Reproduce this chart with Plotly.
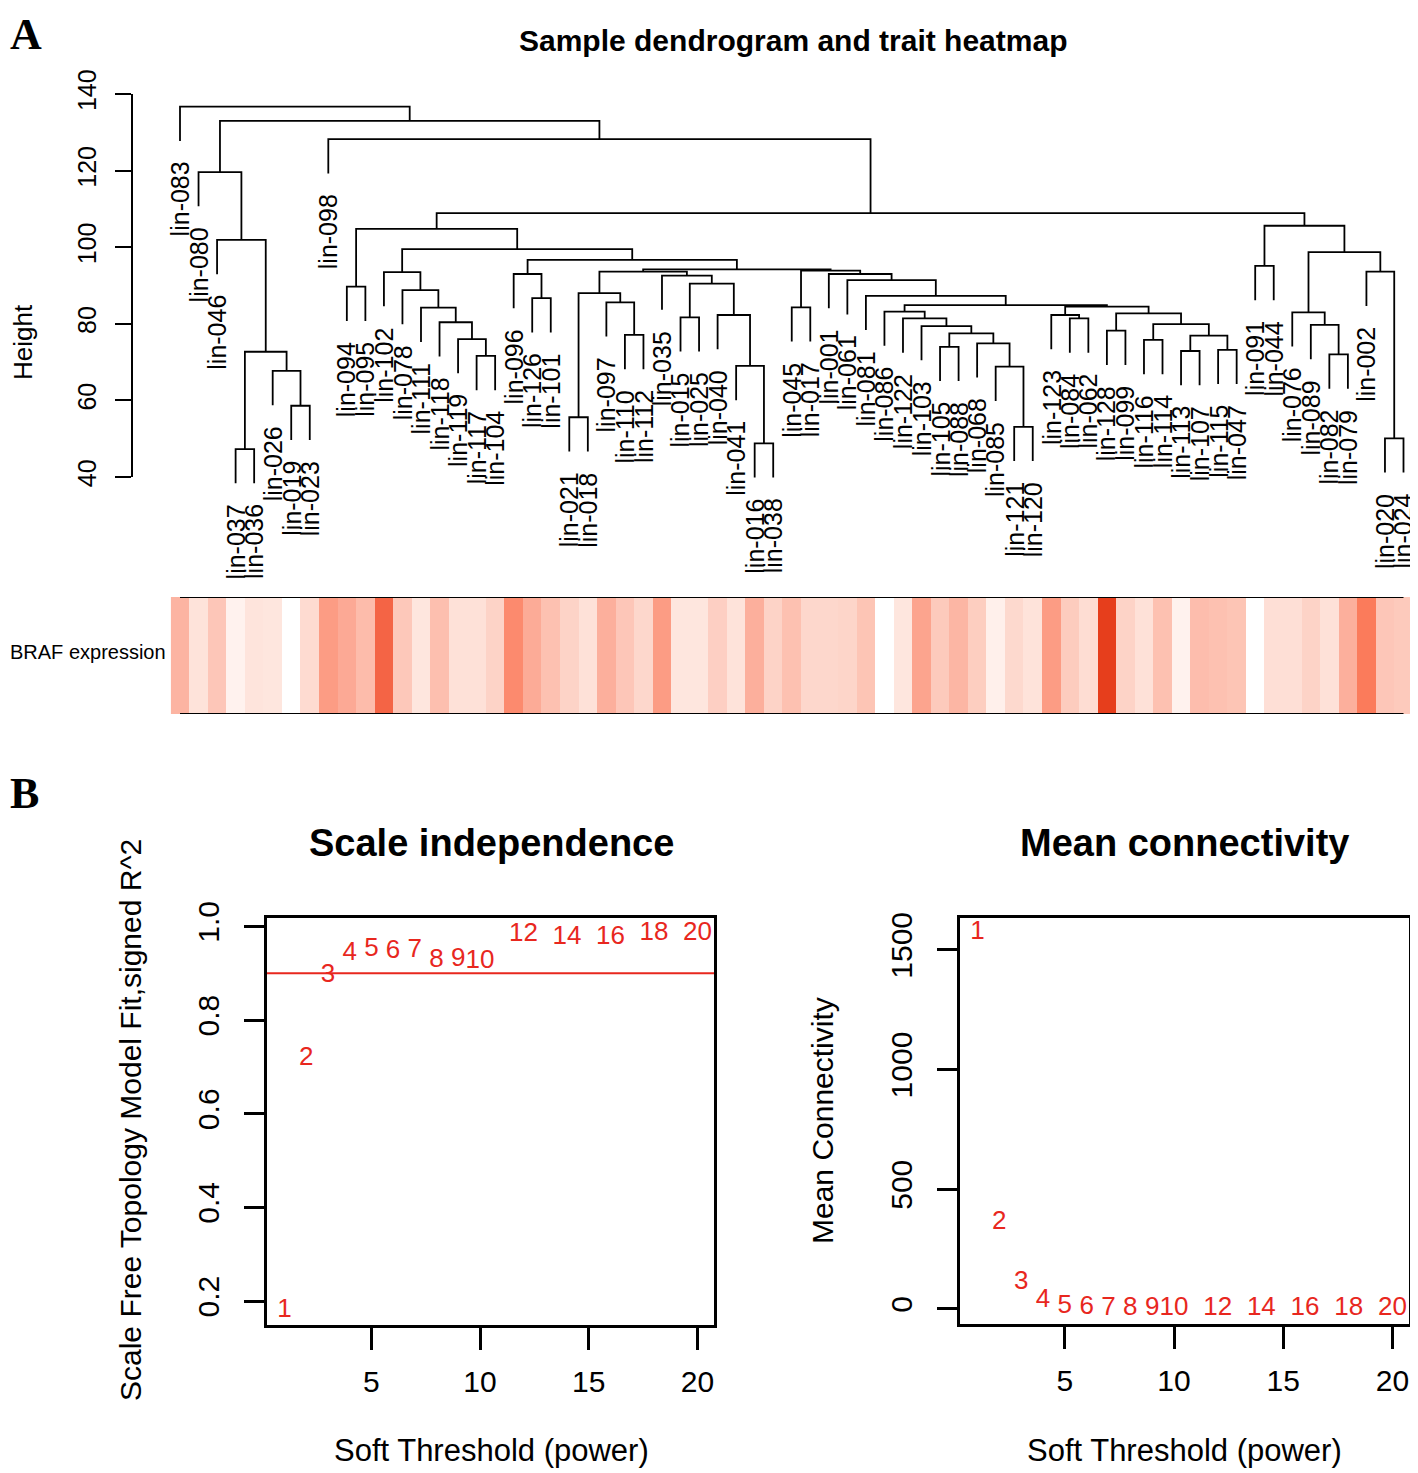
import plotly.graph_objects as go

# page is 1418x1473; the html body adds an 8px margin at left/top
OFF = 8
W, H = 1418 - OFF, 1473 - OFF
def fx(px): return min(1.0, max(0.0, (px - OFF) / W))
def fy(py): return min(1.0, max(0.0, 1 - (py - OFF) / H))

# ---------------- data ----------------
leaf_labels = ["lin-083", "lin-080", "lin-046", "lin-037", "lin-036", "lin-026", "lin-019", "lin-023",
               "lin-098", "lin-094", "lin-095", "lin-102", "lin-078", "lin-111", "lin-118", "lin-119",
               "lin-117", "lin-104", "lin-096", "lin-126", "lin-101", "lin-021", "lin-018", "lin-097",
               "lin-110", "lin-112", "lin-035", "lin-015", "lin-025", "lin-040", "lin-041", "lin-016",
               "lin-038", "lin-045", "lin-017", "lin-001", "lin-061", "lin-081", "lin-086", "lin-122",
               "lin-103", "lin-105", "lin-088", "lin-068", "lin-085", "lin-121", "lin-120", "lin-123",
               "lin-084", "lin-062", "lin-128", "lin-099", "lin-116", "lin-114", "lin-113", "lin-107",
               "lin-115", "lin-047", "lin-091", "lin-044", "lin-076", "lin-089", "lin-082", "lin-079",
               "lin-002", "lin-020", "lin-024"]

# hclust-like merges: (child_a, child_b, height); int children refer to earlier merges
merges = [
    ("lin-037", "lin-036", 47.3), ("lin-019", "lin-023", 58.6), ("lin-026", 1, 67.7), (0, 2, 72.7),
    ("lin-046", 3, 101.9), ("lin-080", 4, 119.6), ("lin-094", "lin-095", 89.7),
    ("lin-117", "lin-104", 71.6), ("lin-119", 7, 76.0), ("lin-118", 8, 80.4), ("lin-111", 9, 84.2),
    ("lin-078", 10, 88.8), ("lin-102", 11, 93.5), ("lin-126", "lin-101", 86.7), ("lin-096", 13, 93.0),
    ("lin-021", "lin-018", 55.6), ("lin-110", "lin-112", 77.1), ("lin-097", 16, 85.6), (15, 17, 88.0),
    ("lin-015", "lin-025", 81.7), ("lin-016", "lin-038", 48.8), ("lin-041", 20, 69.0),
    ("lin-040", 21, 82.3), (19, 22, 90.5), ("lin-035", 23, 92.6), (18, 24, 93.6),
    ("lin-045", "lin-017", 84.3), ("lin-121", "lin-120", 53.1), ("lin-085", 27, 68.8),
    ("lin-068", 28, 74.9), ("lin-105", "lin-088", 74.0), (30, 29, 77.5), ("lin-103", 31, 79.4),
    ("lin-122", 32, 81.4), ("lin-086", 33, 83.2), ("lin-084", "lin-062", 81.4), ("lin-123", 35, 82.3),
    ("lin-128", "lin-099", 78.2), ("lin-116", "lin-114", 75.8), ("lin-113", "lin-107", 72.9),
    ("lin-115", "lin-047", 73.2), (39, 40, 76.9), (38, 41, 79.9), (37, 42, 82.7), (36, 43, 84.5),
    (34, 44, 84.9), ("lin-081", 45, 87.3), ("lin-061", 46, 91.4), ("lin-001", 47, 93.0),
    (26, 48, 93.9), (25, 49, 94.2), (14, 50, 96.7), (12, 51, 99.5), (6, 52, 104.8),
    ("lin-091", "lin-044", 95.1), ("lin-082", "lin-079", 72.0), ("lin-089", 55, 79.7),
    ("lin-076", 56, 83.0), ("lin-020", "lin-024", 50.1), ("lin-002", 58, 93.6), (57, 59, 98.7),
    (54, 60, 105.6), (53, 61, 108.9), ("lin-098", 62, 128.2), (5, 63, 133.0), ("lin-083", 64, 136.7),
]

braf_expr = [0.37, 0.12, 0.27, 0.05, 0.11, 0.10, 0.00, 0.16, 0.50, 0.43, 0.33, 0.75, 0.26, 0.10,
             0.31, 0.13, 0.13, 0.20, 0.58, 0.42, 0.30, 0.20, 0.13, 0.40, 0.27, 0.18, 0.50, 0.10,
             0.10, 0.22, 0.12, 0.40, 0.20, 0.30, 0.18, 0.18, 0.19, 0.28, 0.00, 0.10, 0.46, 0.25,
             0.36, 0.23, 0.06, 0.17, 0.12, 0.50, 0.24, 0.15, 1.00, 0.20, 0.13, 0.30, 0.05, 0.32,
             0.30, 0.28, 0.00, 0.14, 0.14, 0.20, 0.13, 0.40, 0.65, 0.27, 0.25]

height_ticks = [40, 60, 80, 100, 120, 140]

powers = [1, 2, 3, 4, 5, 6, 7, 8, 9, 10, 12, 14, 16, 18, 20]
sft_r2 = [0.181, 0.719, 0.896, 0.943, 0.950, 0.946, 0.948, 0.928, 0.930, 0.925,
          0.982, 0.976, 0.977, 0.985, 0.984]
mean_k = [1571, 361, 111, 35, 11, 4, 2, 1, 0.6, 0.4, 0.2, 0.1, 0.05, 0.03, 0.02]
r2_ticks = [0.2, 0.4, 0.6, 0.8, 1.0]
k_ticks = [0, 500, 1000, 1500]
power_ticks = [5, 10, 15, 20]
r2_cut = 0.90

FONT = "Liberation Sans, Arial, Helvetica, sans-serif"
SERIF = "Liberation Serif, DejaVu Serif, serif"
RED = "#E8271E"

# ---------------- dendrogram geometry from the merge table ----------------
n = len(leaf_labels)
pos = {lab: i + 1 for i, lab in enumerate(leaf_labels)}
hts = [m[2] for m in merges]
hang = 0.1 * (max(hts) - min(hts))
node_x = []
leaf_y = {}
xs, ys = [], []
for a, b, h in merges:
    pts = []
    for c in (a, b):
        if isinstance(c, str):
            leaf_y[c] = h - hang
            pts.append((pos[c], h - hang))
        else:
            pts.append((node_x[c], merges[c][2]))
    (xa, ya), (xb, yb) = pts
    xs += [xa, xa, xb, xb, None]
    ys += [ya, h, h, yb, None]
    node_x.append((xa + xb) / 2)

# pixel layout of the dendrogram panel
k_px = (477 - 94) / 100.0          # px per height unit
y_top_px, y_bot_px = 60, 590
dend_range = [140 - (y_bot_px - 94) / k_px, 140 + (94 - y_top_px) / k_px]
first_px, last_px = 180.0, 1403.5      # pixel of first / last leaf
ppl = (last_px - first_px) / (n - 1)   # px per leaf
dom_l_px, dom_r_px = first_px - ppl / 2, 1417.0
x_dom = [fx(dom_l_px), fx(dom_r_px)]
x_rng = [1 - (first_px - dom_l_px) / ppl, 1 + (dom_r_px - first_px) / ppl]

fig = go.Figure()
fig.add_trace(go.Scatter(x=xs, y=ys, mode="lines", line=dict(color="black", width=1.8),
                         xaxis="x", yaxis="y", hoverinfo="skip"))
fig.add_trace(go.Scatter(x=[None], y=[None], xaxis="x", yaxis="y5", hoverinfo="skip"))

colorscale = [[0.0, "#FFFFFF"], [0.05, "#FFF2EE"], [0.10, "#FEE6DE"], [0.13, "#FEE1D8"],
              [0.20, "#FDD3C7"], [0.30, "#FDC1B1"], [0.40, "#FCAF9C"], [0.50, "#FC9C84"],
              [0.58, "#FC8A6E"], [0.65, "#FB7B5B"], [0.75, "#F46445"], [1.0, "#E63E1C"]]
fig.add_trace(go.Heatmap(z=[braf_expr], x=list(range(1, n + 1)), y=[0], colorscale=colorscale,
                         zmin=0, zmax=1, showscale=False, xaxis="x2", yaxis="y2", hoverinfo="skip"))

fig.add_trace(go.Scatter(x=powers, y=sft_r2, mode="text", text=[str(p) for p in powers],
                         textfont=dict(color=RED, size=26, family=FONT), textposition="middle center",
                         cliponaxis=False, xaxis="x3", yaxis="y3", hoverinfo="skip"))
fig.add_trace(go.Scatter(x=powers, y=mean_k, mode="text", text=[str(p) for p in powers],
                         textfont=dict(color=RED, size=26, family=FONT), textposition="middle center",
                         cliponaxis=False, xaxis="x4", yaxis="y4", hoverinfo="skip"))

annotations = []
for lab in leaf_labels:
    annotations.append(dict(x=pos[lab], y=leaf_y[lab] - 19 / k_px, xref="x", yref="y", text=lab,
                            showarrow=False, textangle=-90, xanchor="center", yanchor="top",
                            font=dict(size=25, family=FONT, color="black")))

def ann(text, px, py, size, angle=0, xanchor="center", yanchor="middle", bold=False, family=FONT):
    annotations.append(dict(x=fx(px), y=fy(py), xref="paper", yref="paper",
                            text=f"<b>{text}</b>" if bold else text, showarrow=False,
                            textangle=angle, xanchor=xanchor, yanchor=yanchor,
                            font=dict(size=size, family=family, color="black")))

ann("Sample dendrogram and trait heatmap", 793, 41, 30, bold=True)
ann("Height", 23, 342, 26, angle=-90)
ann("BRAF expression", 168, 652, 20, xanchor="right")
ann("A", 8, 8, 44, xanchor="left", yanchor="top", bold=True, family=SERIF)
ann("B", 8, 793, 44, xanchor="left", bold=True, family=SERIF)
ann("Scale independence", 491, 843, 38, bold=True)
ann("Mean connectivity", 1184, 843, 38, bold=True)
ann("Soft Threshold (power)", 491, 1450, 31)
ann("Soft Threshold (power)", 1184, 1450, 31)
ann("Scale Free Topology Model Fit,signed R^2", 130, 1120, 30, angle=-90)
ann("Mean Connectivity", 822, 1120, 30, angle=-90)

shapes = [
    dict(type="line", xref="x2", yref="y2", x0=1, x1=n, y0=0.5, y1=0.5, line=dict(color="black", width=2)),
    dict(type="line", xref="x2", yref="y2", x0=1, x1=n, y0=-0.5, y1=-0.5, line=dict(color="black", width=2)),
    dict(type="line", xref="x3 domain", yref="y3", x0=0, x1=1, y0=r2_cut, y1=r2_cut,
         line=dict(color=RED, width=2)),
]

hidden = dict(visible=False, showgrid=False, zeroline=False, automargin=False)
box_common = dict(showline=True, mirror=True, linecolor="black", linewidth=2.5, ticks="outside",
                  tickwidth=2.5, tickcolor="black", showgrid=False, zeroline=False, automargin=False,
                  tickfont=dict(size=30, family=FONT, color="black"))

fig.update_layout(
    width=W, height=H, margin=dict(l=0, r=0, t=0, b=0, pad=0, autoexpand=False), showlegend=False,
    autosize=False, paper_bgcolor="white", plot_bgcolor="rgba(0,0,0,0)",
    font=dict(family=FONT, color="black"),
    xaxis=dict(domain=x_dom, range=x_rng, anchor="y", **hidden),
    yaxis=dict(domain=[fy(y_bot_px), fy(y_top_px)], range=dend_range, anchor="x", **hidden),
    yaxis5=dict(domain=[fy(477), fy(94)], range=[40, 140], anchor="free", position=fx(131.5),
                showline=True, linecolor="black", linewidth=1.8, ticks="outside", ticklen=16,
                tickwidth=1.8, tickcolor="black", tickvals=height_ticks, tickangle=-90,
                ticklabelstandoff=9, tickfont=dict(size=25, family=FONT, color="black"),
                showgrid=False, zeroline=False, automargin=False),
    xaxis2=dict(domain=x_dom, range=x_rng, anchor="y2", **hidden),
    yaxis2=dict(domain=[fy(714), fy(597)], range=[-0.5, 0.5], anchor="x2", **hidden),
    xaxis3=dict(domain=[fx(267), fx(714)], range=[0.2, 20.76], anchor="y3", tickvals=power_ticks,
                ticklen=22, ticklabelstandoff=6, **box_common),
    yaxis3=dict(domain=[fy(1325), fy(918)], range=[0.149, 1.018], anchor="x3", tickvals=r2_ticks,
                ticktext=[f"{v:.1f}" for v in r2_ticks], tickangle=-90, ticklen=20,
                ticklabelstandoff=13, **box_common),
    xaxis4=dict(domain=[fx(960), fx(1409)], range=[0.2, 20.76], anchor="y4", tickvals=power_ticks,
                ticklen=22, ticklabelstandoff=6, **box_common),
    yaxis4=dict(domain=[fy(1324), fy(918)], range=[-63, 1633], anchor="x4", tickvals=k_ticks,
                tickangle=-90, ticklen=20, ticklabelstandoff=13, **box_common),
    annotations=annotations, shapes=shapes,
)

fig.write_html("out.html")
